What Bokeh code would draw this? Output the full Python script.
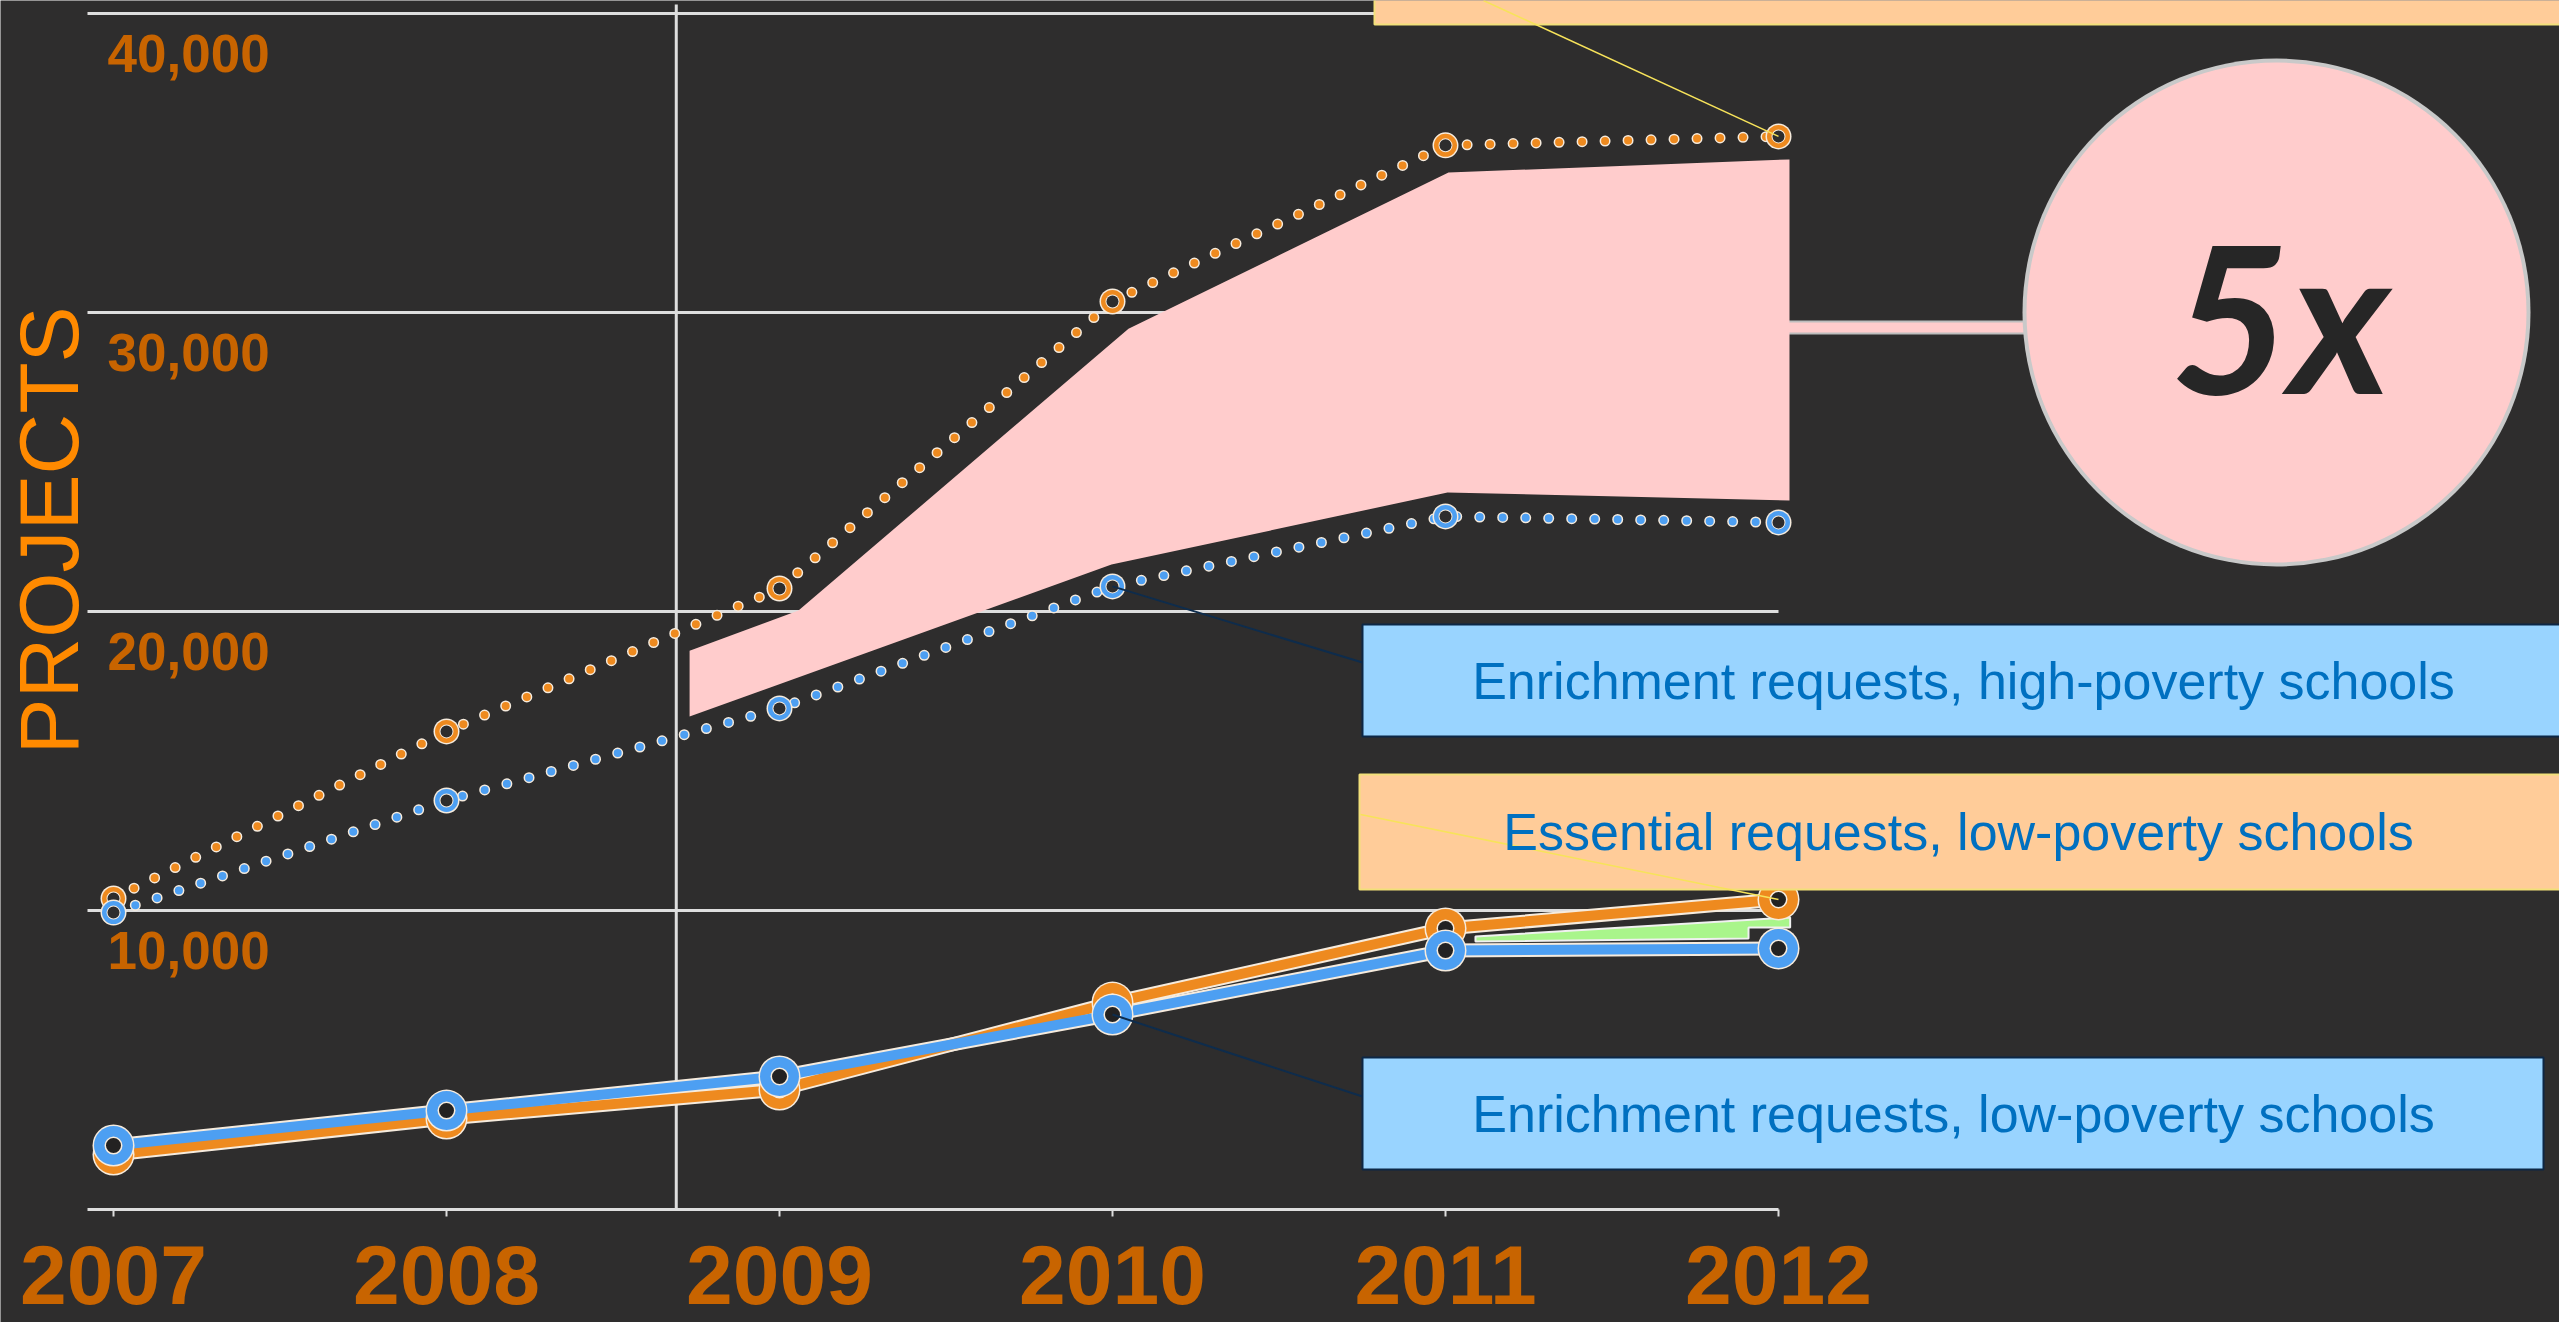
import numpy as np
from bokeh.plotting import figure
from bokeh.models import Range1d, Label
from bokeh.embed import file_html
from bokeh.resources import INLINE
from bokeh.core.properties import value

# ---------------- data ----------------
years = [2007, 2008, 2009, 2010, 2011, 2012]
essential_high = [10400, 15990, 20770, 30370, 35590, 35890]   # orange dotted
enrich_high = [9930, 13680, 16760, 20840, 23180, 22980]       # blue dotted
essential_low = [1840, 3040, 4010, 6920, 9400, 10370]         # orange solid
enrich_low = [2140, 3310, 4450, 6520, 8660, 8730]             # blue solid

y_ticks = [10000, 20000, 30000, 40000]
y_tick_labels = ["10,000", "20,000", "30,000", "40,000"]
year_labels = ["2007", "2008", "2009", "2010", "2011", "2012"]

# gap band between high-poverty series (pink)
gap_high_top_x = [2008.73, 2009.057, 2010.048, 2011.009, 2012.033]
gap_high_top = [18690, 20030, 29460, 34680, 35120]
gap_high_bot_x = [2012.033, 2011.006, 2009.997, 2008.73]
gap_high_bot = [23710, 23980, 21570, 16490]

# gap band between low-poverty series (green)
gap_low_x = [2011.09, 2012.035, 2012.035, 2011.91, 2011.91, 2011.09]
gap_low_y = [9130, 9766, 9430, 9430, 9063, 8963]

marker_year = 2008.69
ratio_label = "5x"
axis_title = "PROJECTS"
box_texts = ["Enrichment requests, high-poverty schools",
             "Essential requests, low-poverty schools",
             "Enrichment requests, low-poverty schools"]

# ---------------- layout helpers (pixels -> data) ----------------
W, H = 2559, 1322
def px_x(px):
    return 2007 + (px - 113) / 333.0
def px_y(py):
    return (1209 - py) / 0.0299
UPP = 1 / 0.0299  # data units per pixel (y)

BG = "#2e2d2d"
ORANGE = "#EE8A1F"
BLUE = "#4D9FF2"
HALO = "#F6EBDD"
LABEL = "#C86400"
PINK = "#FFCCCC"
GRID = "#DEDEDE"

p = figure(width=W, height=H, x_range=Range1d(px_x(0), px_x(W)),
           y_range=Range1d(px_y(H), px_y(0)),
           x_axis_type=None, y_axis_type=None, toolbar_location=None,
           output_backend="svg", min_border=0)
p.min_border_left = p.min_border_right = p.min_border_top = p.min_border_bottom = 0
p.background_fill_color = BG
p.border_fill_color = BG
p.outline_line_color = None
p.grid.visible = False

# ---------------- grid and axis ----------------
x_left = px_x(87)
p.segment(x0=[x_left] * len(y_ticks), x1=[years[-1]] * len(y_ticks), y0=y_ticks, y1=y_ticks,
          line_color=GRID, line_width=3)
p.segment(x0=[x_left], x1=[years[-1]], y0=[0], y1=[0], line_color=GRID, line_width=3)
p.segment(x0=years, x1=years, y0=[0] * 6, y1=[-7 * UPP] * 6, line_color=GRID, line_width=2)
p.segment(x0=[marker_year], x1=[marker_year], y0=[0], y1=[px_y(4)], line_color=GRID, line_width=3)

# y tick labels (placed just below each grid line)
p.text(x=[px_x(107)] * 4, y=[v - 40 * UPP for v in y_ticks], text=y_tick_labels,
       text_font=value("Liberation Sans"), text_font_style="bold", text_font_size="53px",
       text_color=LABEL, text_align="left", text_baseline="middle")

# year labels
p.text(x=years, y=[px_y(1274)] * 6, text=year_labels,
       text_font=value("Liberation Sans"), text_font_style="bold", text_font_size="84px",
       text_color=LABEL, text_align="center", text_baseline="middle")

# axis title at the left edge
p.add_layout(Label(x=px_x(48), y=px_y(530), text=axis_title, angle=np.pi / 2,
                   text_font="Liberation Sans", text_font_size="84px", text_color="#FF8A00",
                   text_align="center", text_baseline="middle"))

# ---------------- gap bands ----------------
p.quad(left=[2012.0], right=[px_x(2040)], top=[px_y(321)], bottom=[px_y(333)],
       fill_color=PINK, line_color="#BDBDBD", line_width=2)
p.patch(gap_high_top_x + gap_high_bot_x, gap_high_top + gap_high_bot,
        fill_color=PINK, line_color=None)
p.patch(gap_low_x, gap_low_y, fill_color="#A9F58B", line_color="#F0F0F0", line_width=2)

# ---------------- dotted series ----------------
for ys, col in [(essential_high, ORANGE), (enrich_high, BLUE)]:
    p.line(years, ys, line_color=HALO, line_width=11, line_dash="0 23", line_cap="round")
    p.line(years, ys, line_color=col, line_width=8, line_dash="0 23", line_cap="round")
for ys, col in [(essential_high, ORANGE), (enrich_high, BLUE)]:
    p.scatter(years, ys, size=26, fill_color=HALO, line_color=None)
    p.scatter(years, ys, size=23, fill_color=col, line_color=None)
    p.scatter(years, ys, size=14, fill_color=HALO, line_color=None)
    p.scatter(years, ys, size=12, fill_color=BG, line_color=None)

# ---------------- solid series ----------------
for ys in (essential_low, enrich_low):
    p.line(years, ys, line_color=HALO, line_width=14, line_cap="round")
p.line(years, essential_low, line_color=ORANGE, line_width=10, line_cap="round")
p.line(years, enrich_low, line_color=BLUE, line_width=10, line_cap="round")
for ys, col in [(essential_low, ORANGE), (enrich_low, BLUE)]:
    p.scatter(years, ys, size=42, fill_color=HALO, line_color=None)
    p.scatter(years, ys, size=39, fill_color=col, line_color=None)
    p.scatter(years, ys, size=18, fill_color=HALO, line_color=None)
    p.scatter(years, ys, size=15, fill_color="#232222", line_color=None)

# ---------------- annotation boxes ----------------
p.segment(x0=[years[3], years[3]], y0=[enrich_high[3], enrich_low[3]],
          x1=[px_x(1362), px_x(1362)], y1=[px_y(662), px_y(1096)],
          line_color="#0E2C4C", line_width=2)

boxes_left = [px_x(1374), px_x(1362), px_x(1359), px_x(1362)]
boxes_right = [px_x(2600), px_x(2600), px_x(2600), px_x(2543)]
boxes_top = [px_y(-40), px_y(624), px_y(774), px_y(1057)]
boxes_bot = [px_y(24), px_y(736), px_y(889), px_y(1169)]
box_fill = ["#FFCC99", "#99D4FF", "#FFCC99", "#99D4FF"]
box_line = ["#F2E07A", "#0C2746", "#F2E07A", "#0C2746"]
p.quad(left=boxes_left, right=boxes_right, top=boxes_top, bottom=boxes_bot,
       fill_color=box_fill, line_color=box_line, line_width=2)

p.segment(x0=[px_x(1483), px_x(1360)], y0=[px_y(0), px_y(814)],
          x1=[years[5], years[5]], y1=[essential_high[5], essential_low[5]],
          line_color="#F7E35A", line_width=1.5)

p.text(x=[px_x(1963), px_x(1958), px_x(1953)],
       y=[px_y(680), px_y(831), px_y(1113)], text=box_texts,
       text_font=value("Liberation Sans"), text_font_size="52px", text_color="#0070C0",
       text_align="center", text_baseline="middle")

# ---------------- 5x circle ----------------
p.scatter([px_x(2276)], [px_y(312)], size=508, fill_color="#C9C9C9", line_color=None)
p.scatter([px_x(2276)], [px_y(312)], size=500, fill_color=PINK, line_color=None)
p.text(x=[px_x(2280)], y=[px_y(314)], text=[ratio_label],
       text_font=value("Lato"), text_font_style="bold italic", text_font_size="206px",
       text_color="#262626", text_align="center", text_baseline="middle")

open("out.html", "w").write(file_html(p, INLINE))
